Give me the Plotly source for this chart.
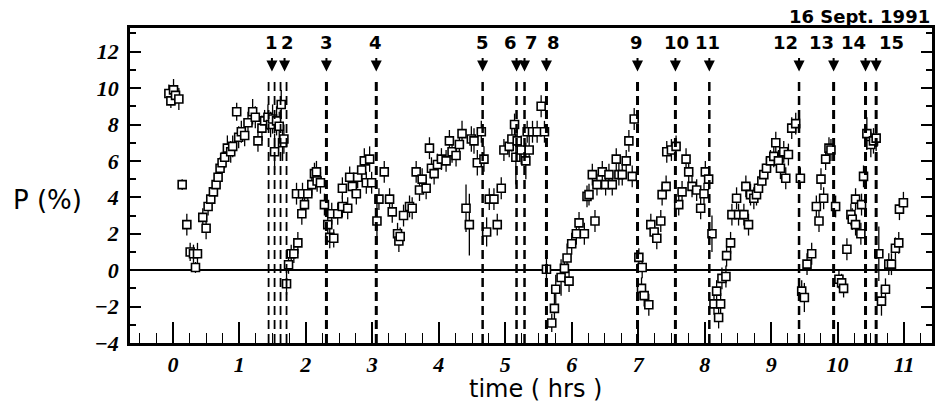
import plotly.graph_objects as go

# ---------------- data ----------------
time_hrs = [
    -0.06, -0.03, 0.01, 0.04, 0.09, 0.14, 0.21, 0.26, 0.31, 0.37, 0.34, 0.45, 0.50,
    0.53, 0.57, 0.61, 0.65, 0.68, 0.71, 0.74, 0.78, 0.82, 0.87, 0.90, 0.96, 0.99,
    1.03, 1.08, 1.13, 1.20, 1.24, 1.28, 1.34, 1.38, 1.43, 1.47, 1.50, 1.53, 1.56,
    1.60, 1.63, 1.65, 1.67,
    1.71, 1.74, 1.78, 1.82, 1.88, 1.94, 1.98, 1.86, 1.95, 2.03, 2.09, 2.13, 2.17,
    2.22, 2.16,
    2.28, 2.33, 2.36, 2.42, 2.39, 2.48, 2.55, 2.63, 2.55, 2.66, 2.70, 2.76, 2.78,
    2.84, 2.88, 2.96, 2.91, 2.99,
    3.07, 3.10, 3.18, 3.26, 3.30, 3.38, 3.40, 3.42, 3.47, 3.56, 3.60, 3.66, 3.71,
    3.75, 3.81, 3.86, 3.89, 3.93, 3.98, 4.04, 4.11, 4.16, 4.20, 4.26, 4.31, 4.35,
    4.41, 4.46, 4.49, 4.53, 4.58, 4.64, 4.68,
    4.72, 4.76, 4.83, 4.88, 4.94, 4.98, 5.06, 5.14, 5.10, 5.18, 5.16, 5.24, 5.31,
    5.36, 5.33, 5.41, 5.48, 5.54, 5.59,
    5.62, 5.70, 5.74, 5.76, 5.84, 5.89, 5.96, 5.93, 6.00, 6.07, 6.11, 6.19, 6.23,
    6.26, 6.35, 6.31, 6.38, 6.46, 6.51, 6.56, 6.61, 6.67, 6.71, 6.76, 6.82, 6.86,
    6.91, 6.94,
    7.01, 7.06, 7.05, 7.09, 7.16, 7.19, 7.24, 7.28, 7.34, 7.36, 7.42, 7.43, 7.50,
    7.57, 7.61, 7.66, 7.72, 7.76, 7.81, 7.88, 7.94, 7.99, 8.01, 8.06,
    8.11, 8.14, 8.18, 8.21, 8.24, 8.26, 8.32, 8.33, 8.39, 8.41, 8.48, 8.51, 8.59,
    8.62, 8.66, 8.69, 8.74, 8.78, 8.81, 8.86, 8.89, 8.93, 8.99, 9.04, 9.07, 9.11,
    9.14, 9.19, 9.22, 9.26, 9.31, 9.37, 9.44,
    9.46, 9.50, 9.54, 9.61, 9.68, 9.72, 9.75, 9.79, 9.82, 9.87, 9.90, 9.97,
    10.02, 10.06, 10.09, 10.14, 10.20, 10.22, 10.27, 10.27, 10.35, 10.36, 10.39,
    10.44, 10.50, 10.54, 10.58,
    10.62, 10.66, 10.72, 10.77, 10.81, 10.87, 10.92, 10.93, 10.99,
]

pol_pct = [
    9.7, 9.3, 9.9, 9.6, 9.4, 4.7, 2.5, 1.0, 0.9, 0.9, 0.15, 2.9, 2.3,
    3.5, 3.9, 4.3, 4.7, 5.1, 5.6, 5.9, 6.2, 6.7, 6.5, 6.8, 8.7, 7.3,
    7.6, 7.4, 8.1, 8.7, 8.4, 7.1, 7.8, 8.2, 8.4, 8.0, 8.3, 6.5, 8.2,
    7.9, 9.1, 7.0, 7.2,
    -0.75, 0.3, 0.9, 0.9, 1.5, 3.1, 3.6, 4.2, 4.2, 4.2, 4.7, 5.3, 4.9,
    4.8, 5.4,
    3.6, 2.5, 1.8, 1.75, 3.1, 3.1, 3.5, 3.4, 4.5, 5.1, 4.6, 4.2, 5.1,
    5.5, 6.0, 6.1, 4.8, 4.8,
    2.7, 3.9, 5.4, 3.9, 3.2, 2.0, 1.6, 1.85, 3.0, 3.5, 3.4, 5.4, 4.4,
    5.0, 4.5, 6.7, 5.6, 5.3, 5.8, 6.1, 6.0, 7.1, 6.5, 6.3, 6.9, 7.5,
    3.4, 2.5, 7.2, 7.1, 5.9, 7.6, 6.1,
    2.1, 3.9, 3.9, 2.5, 4.5, 6.6, 6.8, 8.0, 7.2, 7.1, 6.2, 6.6, 6.0,
    6.6, 7.6, 7.6, 7.6, 9.0, 7.6,
    0.05, -2.9, -2.1, -1.05, -0.4, 0.1, -0.6, 0.67, 1.45, 2.0, 2.6, 2.0, 4.05,
    4.15, 2.7, 5.25, 4.7, 5.4, 4.7, 5.25, 4.7, 6.1, 5.25, 5.25, 6.0, 7.1,
    5.15, 8.3,
    0.7, 0.15, -1.0, -1.4, -1.9, 2.5, 2.1, 1.75, 2.7, 4.15, 4.6, 6.5, 6.6,
    6.8, 3.6, 4.3, 6.1, 5.4, 4.6, 4.4, 3.4, 4.2, 5.4, 5.0,
    2.0, -1.85, -1.15, -2.6, -1.85, -0.45, -0.35, 0.8, 1.5, 3.05, 3.95, 3.05, 3.05,
    4.6, 2.5, 4.15, 3.95, 4.15, 4.5, 4.9, 5.25, 5.6, 6.0, 6.25, 7.0, 6.0,
    5.6, 6.5, 5.05, 6.35, 7.8, 8.05, 5.05,
    -1.15, -1.5, 0.33, 0.9, 3.5, 2.7, 5.0, 3.95, 6.1, 6.7, 6.6, 3.5,
    -0.5, -0.7, -1.0, 1.15, 3.05, 2.8, 2.5, 3.9, 2.0, 3.6, 5.15,
    7.5, 6.9, 7.1, 7.25,
    0.9, -1.7, -1.05, 0.33, 0.33, 1.2, 1.5, 3.35, 3.7,
]

pol_err = [
    0.5, 0.4, 0.6, 0.5, 0.6, 0.3, 0.6, 0.5, 0.5, 0.6, 0.3, 0.5, 0.6,
    0.5, 0.5, 0.6, 0.6, 0.5, 0.6, 0.6, 0.6, 0.7, 0.6, 0.6, 0.5, 0.6,
    0.6, 0.6, 0.6, 0.7, 0.6, 0.6, 0.7, 0.6, 0.7, 0.7, 0.8, 1.0, 0.8,
    0.8, 0.8, 1.0, 0.8,
    0.6, 0.5, 0.5, 0.5, 0.6, 0.6, 0.6, 0.6, 0.6, 0.6, 0.6, 0.6, 0.6,
    0.6, 0.6,
    0.6, 0.6, 0.6, 0.5, 0.6, 0.6, 0.6, 0.6, 0.6, 0.6, 0.6, 0.6, 0.6,
    0.6, 0.7, 0.7, 0.6, 0.6,
    1.3, 0.6, 0.6, 0.6, 0.6, 0.6, 0.6, 0.5, 0.6, 0.6, 0.6, 0.6, 0.6,
    0.6, 0.6, 0.6, 0.6, 0.6, 0.6, 0.6, 0.6, 0.6, 0.6, 0.6, 0.6, 0.7,
    1.3, 1.7, 0.7, 0.7, 0.7, 0.6, 0.7,
    0.8, 0.6, 0.6, 0.6, 0.6, 0.6, 0.6, 0.6, 0.7, 0.7, 1.5, 0.8, 1.0,
    0.8, 0.6, 0.6, 0.6, 0.6, 0.6,
    0.6, 0.5, 0.8, 0.8, 1.0, 0.8, 0.6, 0.8, 0.6, 0.6, 0.6, 0.6, 0.6,
    0.6, 0.6, 0.6, 0.6, 0.6, 0.6, 0.6, 0.6, 0.6, 0.6, 0.6, 0.6, 0.6,
    0.6, 0.6,
    0.5, 0.6, 0.6, 0.6, 0.6, 0.6, 0.6, 0.6, 0.6, 0.6, 0.6, 0.6, 0.6,
    0.6, 0.6, 0.6, 0.6, 0.6, 0.6, 0.6, 0.6, 0.6, 0.6, 0.6,
    1.0, 0.6, 0.6, 0.6, 0.6, 0.6, 0.6, 0.6, 0.6, 0.6, 0.6, 0.6, 0.6,
    0.6, 0.6, 0.6, 0.6, 0.6, 0.6, 0.6, 0.6, 0.6, 0.6, 0.6, 0.6, 0.6,
    0.6, 0.6, 0.6, 0.6, 0.6, 0.6, 0.6,
    0.6, 0.8, 0.6, 0.6, 0.6, 0.6, 0.6, 0.6, 0.6, 0.6, 0.6, 0.6,
    0.5, 0.5, 0.5, 0.6, 0.6, 0.6, 0.6, 0.6, 0.6, 0.6, 0.6,
    0.9, 0.7, 0.7, 0.7,
    1.5, 0.8, 0.6, 0.6, 0.6, 0.6, 0.6, 0.6, 0.6,
]

# vertical dashed event lines (hrs)
event_lines = [1.44, 1.53, 1.62, 1.71, 2.31, 3.06, 4.66, 5.17, 5.29, 5.62,
               6.99, 7.56, 8.07, 9.42, 9.94, 10.42, 10.58]
event_line_width = [1.8, 1.8, 1.8, 1.8, 3, 3, 2.5, 2.5, 2.5, 3,
                    3, 3, 2.5, 2.5, 3, 3, 3]
# arrows and their numbers
arrow_t = [1.49, 1.68, 2.31, 3.06, 4.66, 5.17, 5.29, 5.62, 6.99, 7.56, 8.07,
           9.42, 9.94, 10.42, 10.58]
label_t = [1.49, 1.72, 2.31, 3.05, 4.66, 5.08, 5.39, 5.73, 6.97, 7.57, 8.05,
           9.22, 9.76, 10.24, 10.81]
label_txt = [str(i) for i in range(1, 16)]

x_ticks = list(range(0, 12))
y_ticks = list(range(-4, 13, 2))

# ---------------- figure ----------------
fig = go.Figure()
fig.add_trace(go.Scatter(
    x=time_hrs, y=pol_pct, mode="markers",
    marker=dict(symbol="square", size=8, color="white",
                line=dict(color="black", width=1.6)),
    error_y=dict(type="data", array=pol_err, visible=True,
                 color="black", thickness=1.3, width=0),
    showlegend=False,
))

shapes = []
for t, w in zip(event_lines, event_line_width):
    shapes.append(dict(type="line", xref="x", yref="paper", x0=t, x1=t,
                       y0=0, y1=0.835,
                       line=dict(color="black", width=w, dash="9px,5px")))
annotations = []
for t in arrow_t:
    annotations.append(dict(x=t, y=0.862, xref="x", yref="paper", text="",
                            showarrow=True, ax=0, ay=-15, arrowhead=2,
                            arrowsize=1.1, arrowwidth=2, arrowcolor="black"))
for t, s in zip(label_t, label_txt):
    annotations.append(dict(x=t, y=0.955, xref="x", yref="paper", text=s,
                            showarrow=False, xanchor="center", yanchor="middle",
                            font=dict(family="DejaVu Sans", size=18,
                                      color="black", weight="bold")))
annotations += [
    dict(x=1.0, y=1.036, xref="paper", yref="paper", text="16 Sept. 1991",
         showarrow=False, xanchor="right", yanchor="middle",
         font=dict(family="DejaVu Sans", size=18, color="black", weight="bold")),
    dict(x=0.506, y=-0.145, xref="paper", yref="paper", text="time ( hrs )",
         showarrow=False, xanchor="center", yanchor="middle",
         font=dict(family="DejaVu Sans", size=24, color="black")),
    dict(x=-0.103, y=0.454, xref="paper", yref="paper", text="P (%)",
         showarrow=False, xanchor="center", yanchor="middle",
         font=dict(family="DejaVu Sans", size=26, color="black")),
]

tickfont = dict(family="Liberation Serif", size=22, color="black",
                weight="bold", style="italic")

fig.update_layout(
    width=940, height=403,
    margin=dict(l=130, r=5, t=28, b=60),
    paper_bgcolor="white", plot_bgcolor="white",
    shapes=shapes, annotations=annotations,
    xaxis=dict(range=[-0.645, 11.42], tickvals=x_ticks, ticks="inside",
               ticklen=21, tickwidth=1.6, tickcolor="black",
               minor=dict(dtick=0.25, tick0=0, ticks="inside", ticklen=10,
                          tickwidth=1.3, tickcolor="black", showgrid=False),
               showgrid=False, zeroline=False, showline=True, linecolor="black",
               linewidth=2.5, mirror=True, tickfont=tickfont,
               ticklabelstandoff=0),
    yaxis=dict(range=[-4.0, 13.3], tickvals=y_ticks, ticks="inside",
               ticklen=11, tickwidth=1.8, tickcolor="black",
               minor=dict(dtick=1, tick0=0, ticks="inside", ticklen=6,
                          tickwidth=1.5, tickcolor="black", showgrid=False),
               showgrid=False, zeroline=True, zerolinecolor="black",
               zerolinewidth=2, showline=True, linecolor="black",
               linewidth=2.5, mirror="ticks", tickfont=tickfont,
               ticklabelstandoff=4),
)

fig.write_html("out.html")
